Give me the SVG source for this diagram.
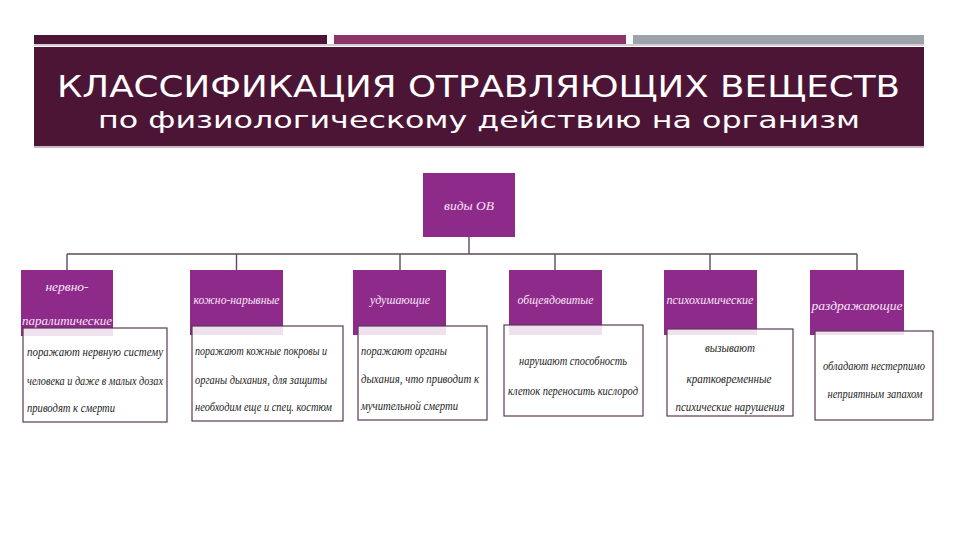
<svg xmlns="http://www.w3.org/2000/svg" width="960" height="540" viewBox="0 0 960 540">
<defs>
<style>
.title{font-family:"DejaVu Sans","Noto Sans",sans-serif;fill:#ffffff}
.node{fill:#8e2a8a}
.lbl{font-family:"Liberation Serif","DejaVu Serif",serif;font-style:italic;font-size:13.5px;fill:#f8e4f6;text-anchor:middle}
.box{fill:#ffffff;fill-opacity:0.86;stroke:#5b3a58;stroke-width:1.2}
.txt{font-family:"Liberation Serif","DejaVu Serif",serif;font-style:italic;font-size:12.5px;fill:#1e1e1e}
.c{text-anchor:middle}
.conn{stroke:#5e4a5c;stroke-width:1.4;fill:none}
</style>
</defs>
<rect width="960" height="540" fill="#ffffff"/>
<g id="header">
<rect x="34" y="35" width="293" height="9" fill="#4d1535"/>
<rect x="334" y="35" width="292" height="9" fill="#8b3466"/>
<rect x="633" y="35" width="291" height="9" fill="#9da3a8"/>
<rect x="34" y="44" width="890" height="2" fill="#d8ccd4"/>
<rect x="34" y="47" width="890" height="99" fill="#4d1535"/>
<rect x="34" y="146" width="890" height="2" fill="#c9b9c4"/>
<text class="title" x="57" y="97" font-size="31" textLength="843" lengthAdjust="spacingAndGlyphs">КЛАССИФИКАЦИЯ ОТРАВЛЯЮЩИХ ВЕЩЕСТВ</text>
<text class="title" x="98" y="128" font-size="23" textLength="762" lengthAdjust="spacingAndGlyphs">по физиологическому действию на организм</text>
</g>
<g id="connectors">
<path class="conn" d="M469 237V254M67 254H857M67 254V270M236.5 254V270M400 254V270M555 254V270M710 254V270M857 254V270"/>
</g>
<g id="root">
<rect class="node" x="423" y="173" width="92" height="64"/>
<text class="lbl" x="469" y="210" font-size="13">виды ОВ</text>
</g>
<g id="n1">
<rect class="node" x="21" y="270" width="92" height="66"/>
<text class="lbl" x="67" y="291">нервно-</text>
<text class="lbl" x="67" y="325" textLength="90" lengthAdjust="spacingAndGlyphs">паралитические</text>
<rect class="box" x="23" y="328" width="144" height="94"/>
<text class="txt" x="27" y="356" textLength="136" lengthAdjust="spacingAndGlyphs">поражают  нервную  систему</text>
<text class="txt" x="27" y="385" textLength="136" lengthAdjust="spacingAndGlyphs">человека и даже в малых дозах</text>
<text class="txt" x="27" y="412" textLength="88" lengthAdjust="spacingAndGlyphs">приводят к смерти</text>
</g>
<g id="n2">
<rect class="node" x="190" y="270" width="93" height="65"/>
<text class="lbl" x="236.5" y="304" textLength="86" lengthAdjust="spacingAndGlyphs">кожно-нарывные</text>
<rect class="box" x="192" y="326" width="151" height="95"/>
<text class="txt" x="195" y="355" textLength="132" lengthAdjust="spacingAndGlyphs">поражают кожные покровы и</text>
<text class="txt" x="195" y="384" textLength="132" lengthAdjust="spacingAndGlyphs">органы дыхания, для защиты</text>
<text class="txt" x="195" y="411" textLength="137" lengthAdjust="spacingAndGlyphs">необходим еще и спец. костюм</text>
</g>
<g id="n3">
<rect class="node" x="353" y="270" width="93" height="65"/>
<text class="lbl" x="400" y="304" textLength="60" lengthAdjust="spacingAndGlyphs">удушающие</text>
<rect class="box" x="358" y="326" width="129" height="94"/>
<text class="txt" x="361" y="355" textLength="86" lengthAdjust="spacingAndGlyphs">поражают органы</text>
<text class="txt" x="361" y="383" textLength="118" lengthAdjust="spacingAndGlyphs">дыхания, что приводит к</text>
<text class="txt" x="361" y="410" textLength="97" lengthAdjust="spacingAndGlyphs">мучительной смерти</text>
</g>
<g id="n4">
<rect class="node" x="509" y="270" width="93" height="65"/>
<text class="lbl" x="555.5" y="304" textLength="76" lengthAdjust="spacingAndGlyphs">общеядовитые</text>
<rect class="box" x="504" y="325" width="139" height="91"/>
<text class="txt c" x="573" y="365" textLength="108" lengthAdjust="spacingAndGlyphs">нарушают способность</text>
<text class="txt c" x="573" y="395" textLength="130" lengthAdjust="spacingAndGlyphs">клеток переносить кислород</text>
</g>
<g id="n5">
<rect class="node" x="664" y="270" width="93" height="65"/>
<text class="lbl" x="710" y="304" textLength="87" lengthAdjust="spacingAndGlyphs">психохимические</text>
<rect class="box" x="667" y="329" width="126" height="87"/>
<text class="txt c" x="730" y="352" textLength="50" lengthAdjust="spacingAndGlyphs">вызывают</text>
<text class="txt c" x="729" y="383" textLength="85" lengthAdjust="spacingAndGlyphs">кратковременные</text>
<text class="txt c" x="730" y="411" textLength="109" lengthAdjust="spacingAndGlyphs">психические нарушения</text>
</g>
<g id="n6">
<rect class="node" x="810" y="270" width="94" height="65"/>
<text class="lbl" x="857" y="310" font-size="18" textLength="91" lengthAdjust="spacingAndGlyphs">раздражающие</text>
<rect class="box" x="815" y="331" width="118" height="89"/>
<text class="txt c" x="874" y="370" textLength="102" lengthAdjust="spacingAndGlyphs">обладают нестерпимо</text>
<text class="txt c" x="875" y="398" textLength="95" lengthAdjust="spacingAndGlyphs">неприятным запахом</text>
</g>
</svg>
